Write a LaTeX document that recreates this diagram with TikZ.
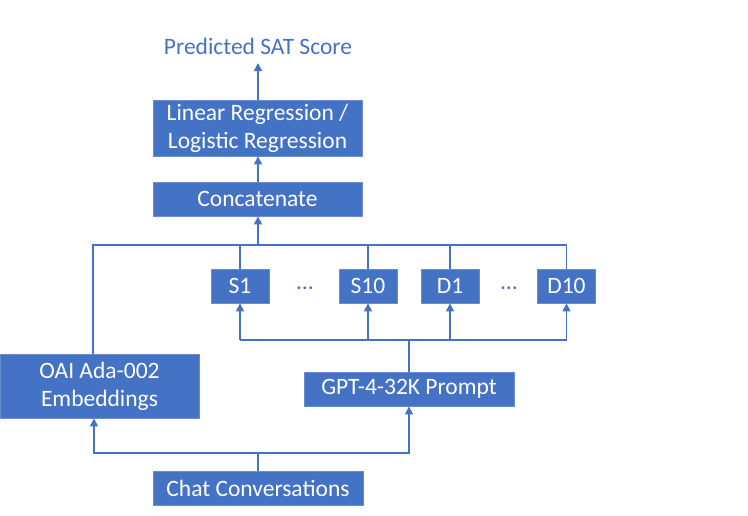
\documentclass[tikz,border=0pt]{standalone}
\usepackage{fontspec}
\setmainfont{Carlito}
\usetikzlibrary{arrows.meta}
\definecolor{ofblue}{HTML}{4472C4}
\tikzset{
  box/.style={draw=ofblue!80!white, fill=ofblue, text=white, line width=0.8pt, inner sep=0pt, align=center, font=\fontsize{23.5}{28}\selectfont},
  wire/.style={draw=ofblue, line width=1.4pt},
  arr/.style={wire, -{Triangle[width=8pt,length=8pt]}},
  lbl/.style={text=ofblue, font=\fontsize{23.5}{28}\selectfont, inner sep=0pt},
}
\begin{document}
\begin{tikzpicture}[x=1pt,y=-1pt]
\useasboundingbox (0,0) rectangle (748,515);
\node[lbl] (pred) at (258,46) {Predicted SAT Score};
\node[box, minimum width=209pt, minimum height=56pt] (lin) at (257.5,128) {Linear Regression /\\Logistic Regression};
\node[box, minimum width=209pt, minimum height=34pt] (conc) at (257.5,199) {Concatenate};
\node[box, minimum width=58pt, minimum height=34pt] (s1) at (240,286) {S1};
\node[box, minimum width=58pt, minimum height=34pt] (s10) at (368,286) {S10};
\node[box, minimum width=58pt, minimum height=34pt] (d1) at (450,286) {D1};
\node[box, minimum width=58pt, minimum height=34pt] (d10) at (566.5,286) {D10};
\node[lbl] (dotsA) at (305,288) {\dots};
\node[lbl] (dotsB) at (509,288) {\dots};
\node[box, minimum width=199pt, minimum height=64pt] (oai) at (99.5,386) {OAI Ada-002\\Embeddings};
\node[box, minimum width=210pt, minimum height=34pt] (gpt) at (409,389) {GPT-4-32K Prompt};
\node[box, minimum width=210pt, minimum height=34pt] (chat) at (258,488) {Chat Conversations};
\coordinate (ptip) at (258,63);
\coordinate (busL) at (93,245);
\coordinate (lowbus) at (409,340);
\coordinate (cb) at (258,453);
\coordinate (cbL) at (94,453);
% top
\draw[arr] (lin.north -| ptip) -- (ptip);
\draw[arr] (conc.north -| ptip) -- (lin.south -| ptip);
% upper bus
\draw[wire] (busL |- oai.north) -- (busL) -- (d10.north |- busL) -- (d10.north);
\draw[wire] (s1.north) -- (s1.north |- busL);
\draw[wire] (s10.north) -- (s10.north |- busL);
\draw[wire] (d1.north) -- (d1.north |- busL);
\draw[arr] (ptip |- busL) -- (conc.south -| ptip);
% lower bus
\draw[wire] (gpt.north) -- (lowbus);
\draw[wire] (s1.south |- lowbus) -- (d10.south |- lowbus);
\draw[arr] (s1.south |- lowbus) -- (s1.south);
\draw[arr] (s10.south |- lowbus) -- (s10.south);
\draw[arr] (d1.south |- lowbus) -- (d1.south);
\draw[arr] (d10.south |- lowbus) -- (d10.south);
% bottom
\draw[wire] (chat.north) -- (cb);
\draw[arr] (cb) -- (cbL) -- (cbL |- oai.south);
\draw[arr] (cb) -| (gpt.south);
\end{tikzpicture}
\end{document}
